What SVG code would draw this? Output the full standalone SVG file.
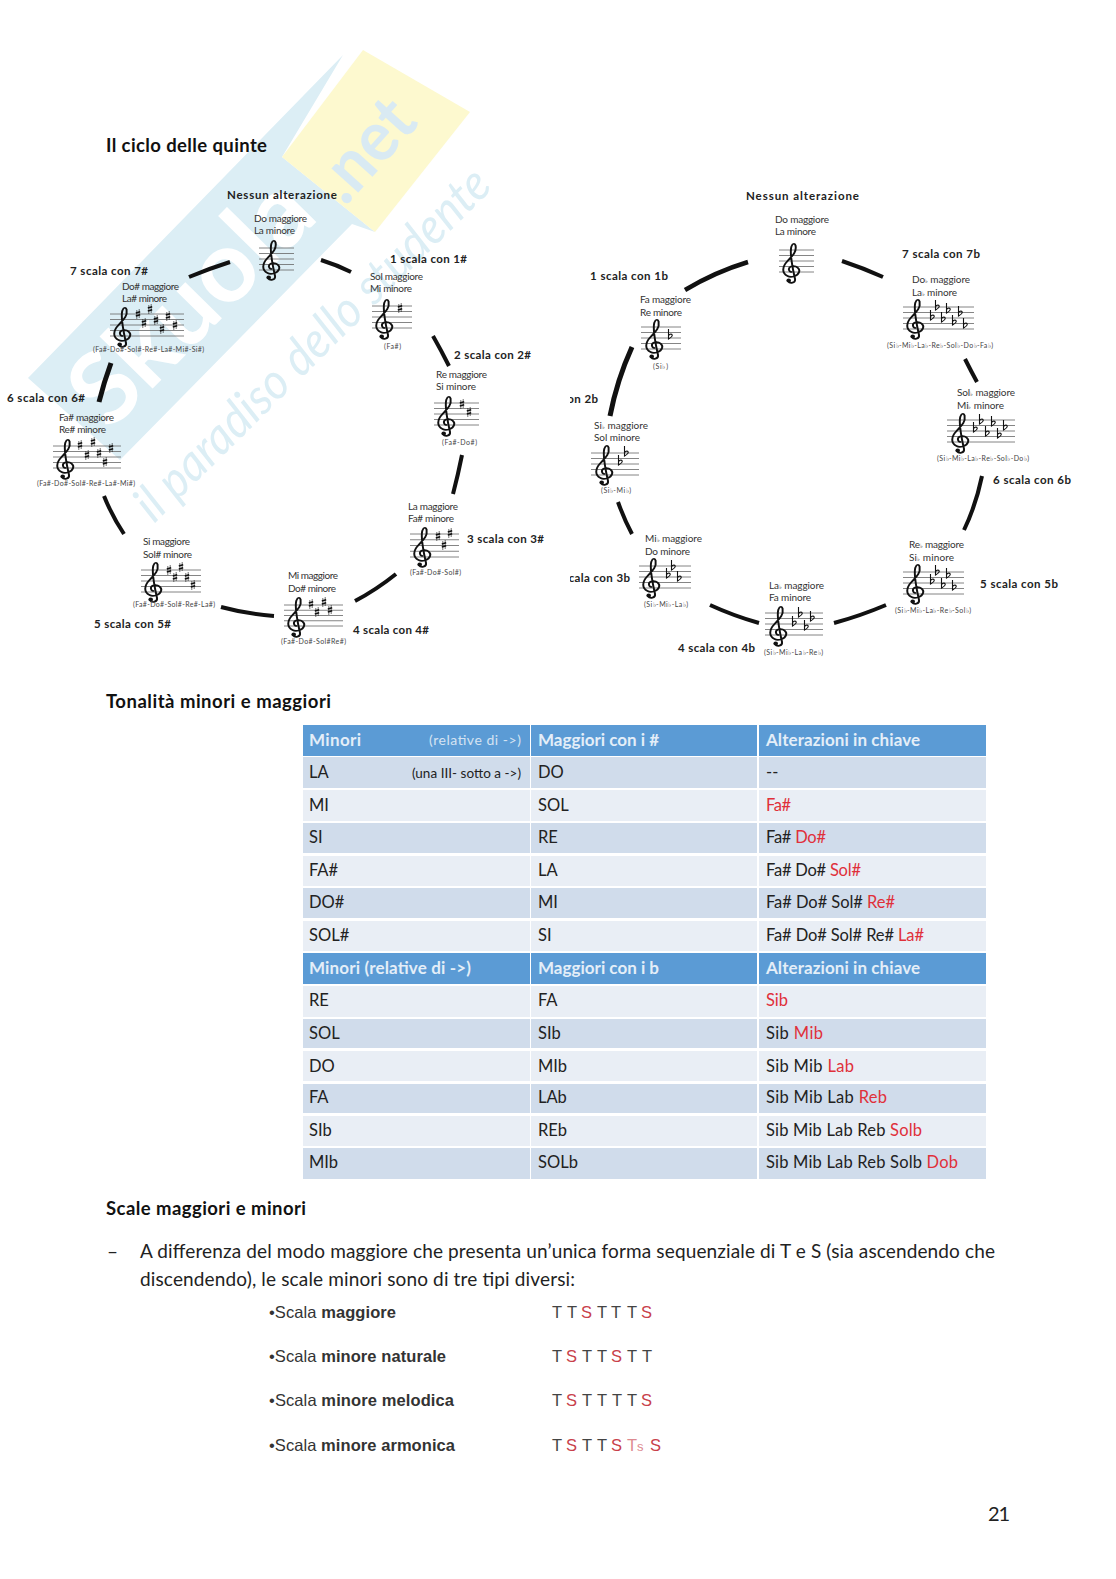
<svg xmlns="http://www.w3.org/2000/svg" xmlns:xlink="http://www.w3.org/1999/xlink" width="1116" height="1579" viewBox="0 0 1116 1579">
<style>
text{font-family:Lato,"Liberation Sans",sans-serif;fill:#222}
.h{font-size:18.5px;font-weight:700;fill:#111}
.b{font-size:11.5px;font-weight:700;fill:#222}
.n{font-size:10px;fill:#333}
.k{font-size:7px;fill:#444}
.f{font-size:6px}
.th{font-size:17px;font-weight:700;fill:#E4EEF8}
.td{font-size:16.5px;fill:#222}
.sm{font-size:13.5px;fill:#222}
.r{fill:#E0303A}
.p{font-size:19px;fill:#222}
.a{font-family:"Liberation Sans",Arial,sans-serif;font-size:16.5px;fill:#333}
.ab{font-weight:700}
.s{font-family:"Liberation Sans",Arial,sans-serif;font-size:16.5px;fill:#444}
.q{fill:#C8404A}
.hd{fill:#5B9BD5}.d{fill:#D0DCEB}.l{fill:#E9EEF5}
.arc{fill:none;stroke:#111;stroke-width:4;stroke-linecap:butt}
.sl{stroke:#666;stroke-width:.8;fill:none;vector-effect:non-scaling-stroke}
</style>
<defs>
<path id="st" class="sl" d="M0 0H1M0 .25H1M0 .5H1M0 .75H1M0 1H1"/>
<g id="clef"><g transform="scale(1.15 1)"><path d="M1 29C-2 29-3 25 0 23.5C5 22 8 26 7 29C6 33 0 35-3 33C-8 30-8 24-3 18C1 13 5 9 4 3C3.6 0 1.5 0 .5 3C-1 7 0 16 2 28L3.5 36C4 40-1 41-2.5 38" fill="none" stroke="#111" stroke-width="1.7"/><circle cx="-2" cy="37.5" r="2" fill="#111"/></g></g>
<g id="sh"><path d="M-1.2-4V5M1.2-5V4" stroke="#111" stroke-width=".6"/><path d="M-2.2-1 2.2-2.2M-2.2 2 2.2.8" stroke="#111" stroke-width="1.5"/></g>
<path id="fl" d="M-1.5-7V3C1 1.5 3 0 2-1.5C1-2.5-1-1.5-1.5 0" fill="none" stroke="#111" stroke-width="1.1"/>
<clipPath id="cut"><rect x="570" y="170" width="546" height="500"/></clipPath>
</defs>
<rect width="1116" height="1579" fill="#fff"/>
<g id="watermark">
<path d="M343 55 28 378 120 460 352 224 375 232 282 157Z" fill="#DCEEF5"/>
<path d="M282 157 363 50 470 112 375 232Z" fill="#FDF9CF"/>
<text transform="translate(110 432) rotate(-45.5)" font-size="100" font-weight="700" textLength="300" lengthAdjust="spacingAndGlyphs" style="fill:#fff;font-family:Lato,sans-serif">Skuola</text>
<text transform="translate(345 207) rotate(-48)" font-size="70" font-weight="700" textLength="112" lengthAdjust="spacingAndGlyphs" style="fill:#D9EAF3;font-family:Lato,sans-serif">.net</text>
<text transform="translate(154 524) rotate(-44.7)" font-size="50" font-style="italic" textLength="478" lengthAdjust="spacingAndGlyphs" style="fill:#DCEEF5;font-family:Lato,sans-serif">il paradiso dello studente</text>
</g>
<g id="headings">
<text class="h" x="106" y="152" textLength="161">Il ciclo delle quinte</text>
<text class="h" x="106" y="708" textLength="225">Tonalità minori e maggiori</text>
<text class="h" x="106" y="1215" textLength="200">Scale maggiori e minori</text>
</g>
<g id="connectors">
<path class="arc" d="M230 262Q208 269 189 277"/>
<path class="arc" d="M321 260Q337 265 351 272"/>
<path class="arc" d="M433 336Q441 350 449 366"/>
<path class="arc" d="M462 455Q458 475 453 494"/>
<path class="arc" d="M396 574Q376 590 355 601"/>
<path class="arc" d="M274 616Q247 614 221 607"/>
<path class="arc" d="M124 534Q112 516 104 496"/>
<path class="arc" style="stroke-width:5" d="M99 402Q104 382 111 363"/>
<path class="arc" style="stroke-width:4.5" d="M748 262Q715 272 685 290"/>
<path class="arc" d="M842 261Q863 268 883 277"/>
<path class="arc" d="M965 359Q971 371 977 382"/>
<path class="arc" d="M982 476Q976 505 964 530"/>
<path class="arc" d="M886 605Q860 616 834 623"/>
<path class="arc" d="M759 623Q734 616 710 605"/>
<path class="arc" d="M632 534Q624 519 618 502"/>
<path class="arc" style="stroke-width:5" d="M610 416Q617 380 632 347"/>
</g>
<g id="labels">
<text class="b" x="227" y="199" textLength="110">Nessun alterazione</text>
<text class="b" x="390" y="263" textLength="77">1 scala con 1#</text>
<text class="b" x="454" y="359" textLength="77">2 scala con 2#</text>
<text class="b" x="467" y="543" textLength="77">3 scala con 3#</text>
<text class="b" x="353" y="634" textLength="76">4 scala con 4#</text>
<text class="b" x="94" y="628" textLength="77">5 scala con 5#</text>
<text class="b" x="7" y="402" textLength="78">6 scala con 6#</text>
<text class="b" x="70" y="275" textLength="78">7 scala con 7#</text>
<text class="b" x="746" y="200" textLength="113">Nessun alterazione</text>
<text class="b" x="902" y="258" textLength="78">7 scala con 7b</text>
<text class="b" x="993" y="484" textLength="78">6 scala con 6b</text>
<text class="b" x="980" y="588" textLength="78">5 scala con 5b</text>
<text class="b" x="678" y="652" textLength="77">4 scala con 4b</text>
<g clip-path="url(#cut)"><text class="b" x="553" y="582" textLength="77">3 scala con 3b</text>
<text class="b" x="521" y="403" textLength="77">2 scala con 2b</text></g>
<text class="b" x="590" y="280" textLength="78">1 scala con 1b</text>
</g>
<g id="key-do"><text class="n" x="254" y="222" textLength="53">Do maggiore</text><text class="n" x="254" y="234" textLength="41">La minore</text>
<use href="#st" transform="translate(259 248) scale(35 22)"/><use href="#clef" transform="translate(271 240)"/></g>
<g id="key-sol"><text class="n" x="370" y="280" textLength="53">Sol maggiore</text><text class="n" x="370" y="292" textLength="42">Mi minore</text>
<use href="#st" transform="translate(372 306) scale(40 22)"/><use href="#clef" transform="translate(384 299)"/><use href="#sh" x="400" y="308"/>
<text class="k" x="384" y="349" textLength="17">(Fa#)</text></g>
<g id="key-re"><text class="n" x="436" y="378" textLength="51">Re maggiore</text><text class="n" x="436" y="390" textLength="40">Si minore</text>
<use href="#st" transform="translate(434 403) scale(45 22)"/><use href="#clef" transform="translate(446 396)"/><use href="#sh" x="462" y="404"/><use href="#sh" x="469" y="412"/>
<text class="k" x="442" y="445" textLength="35">(Fa#-Do#)</text></g>
<g id="key-la"><text class="n" x="408" y="510" textLength="50">La maggiore</text><text class="n" x="408" y="522" textLength="46">Fa# minore</text>
<use href="#st" transform="translate(410 534) scale(49 23)"/><use href="#clef" transform="translate(422 527)"/><use href="#sh" x="438" y="536"/><use href="#sh" x="444" y="545"/><use href="#sh" x="450" y="533"/>
<text class="k" x="410" y="575" textLength="51">(Fa#-Do#-Sol#)</text></g>
<g id="key-mi"><text class="n" x="288" y="579" textLength="50">Mi maggiore</text><text class="n" x="288" y="592" textLength="48">Do# minore</text>
<use href="#st" transform="translate(284 605) scale(59 21)"/><use href="#clef" transform="translate(296 597)"/><use href="#sh" x="311" y="604"/><use href="#sh" x="317" y="612"/><use href="#sh" x="324" y="602"/><use href="#sh" x="330" y="610"/>
<text class="k" x="281" y="644" textLength="65">(Fa#-Do#-Sol#Re#)</text></g>
<g id="key-si"><text class="n" x="143" y="545" textLength="47">Si maggiore</text><text class="n" x="143" y="558" textLength="49">Sol# minore</text>
<use href="#st" transform="translate(141 570) scale(60 22)"/><use href="#clef" transform="translate(153 562)"/><use href="#sh" x="169" y="570"/><use href="#sh" x="175" y="577"/><use href="#sh" x="181" y="567"/><use href="#sh" x="187" y="577"/><use href="#sh" x="193" y="585"/>
<text class="k" x="133" y="607" textLength="82">(Fa#-Do#-Sol#-Re#-La#)</text></g>
<g id="key-fad"><text class="n" x="59" y="421" textLength="55">Fa# maggiore</text><text class="n" x="59" y="433" textLength="47">Re# minore</text>
<use href="#st" transform="translate(53 446) scale(68 22)"/><use href="#clef" transform="translate(65 439)"/><use href="#sh" x="80" y="445"/><use href="#sh" x="87" y="455"/><use href="#sh" x="93" y="442"/><use href="#sh" x="99" y="453"/><use href="#sh" x="105" y="462"/><use href="#sh" x="111" y="448"/>
<text class="k" x="37" y="486" textLength="98">(Fa#-Do#-Sol#-Re#-La#-Mi#)</text></g>
<g id="key-dod"><text class="n" x="122" y="290" textLength="57">Do# maggiore</text><text class="n" x="122" y="302" textLength="45">La# minore</text>
<use href="#st" transform="translate(110 314) scale(74 22)"/><use href="#clef" transform="translate(122 307)"/><use href="#sh" x="138" y="314"/><use href="#sh" x="144" y="323"/><use href="#sh" x="150" y="309"/><use href="#sh" x="156" y="320"/><use href="#sh" x="162" y="329"/><use href="#sh" x="168" y="316"/><use href="#sh" x="175" y="325"/>
<text class="k" x="93" y="352" textLength="111">(Fa#-Do#-Sol#-Re#-La#-Mi#-Si#)</text></g>
<g id="bkey-do"><text class="n" x="775" y="223" textLength="54">Do maggiore</text><text class="n" x="775" y="235" textLength="41">La minore</text>
<use href="#st" transform="translate(779 250) scale(35 22)"/><use href="#clef" transform="translate(791 243)"/></g>
<g id="bkey-dob"><text class="n" x="912" y="283" textLength="58">Do<tspan class="f">♭</tspan> maggiore</text><text class="n" x="912" y="296" textLength="45">La<tspan class="f">♭</tspan> minore</text>
<use href="#st" transform="translate(903 307) scale(71 22)"/><use href="#clef" transform="translate(915 299)"/><use href="#fl" x="932" y="317"/><use href="#fl" x="937" y="307"/><use href="#fl" x="943" y="319"/><use href="#fl" x="948" y="310"/><use href="#fl" x="954" y="322"/><use href="#fl" x="960" y="313"/><use href="#fl" x="965" y="325"/>
<text class="k" x="887" y="348" textLength="106">(Si♭-Mi♭-La♭-Re♭-Sol♭-Do♭-Fa♭)</text></g>
<g id="bkey-solb"><text class="n" x="957" y="396" textLength="58">Sol<tspan class="f">♭</tspan> maggiore</text><text class="n" x="957" y="409" textLength="47">Mi<tspan class="f">♭</tspan> minore</text>
<use href="#st" transform="translate(947 420) scale(68 22)"/><use href="#clef" transform="translate(960 413)"/><use href="#fl" x="975" y="429"/><use href="#fl" x="981" y="421"/><use href="#fl" x="987" y="433"/><use href="#fl" x="993" y="423"/><use href="#fl" x="999" y="435"/><use href="#fl" x="1005" y="427"/>
<text class="k" x="937" y="461" textLength="92">(Si♭-Mi♭-La♭-Re♭-Sol♭-Do♭)</text></g>
<g id="bkey-reb"><text class="n" x="909" y="548" textLength="55">Re<tspan class="f">♭</tspan> maggiore</text><text class="n" x="909" y="561" textLength="45">Si<tspan class="f">♭</tspan> minore</text>
<use href="#st" transform="translate(903 572) scale(61 22)"/><use href="#clef" transform="translate(915 564)"/><use href="#fl" x="932" y="581"/><use href="#fl" x="937" y="572"/><use href="#fl" x="943" y="585"/><use href="#fl" x="948" y="575"/><use href="#fl" x="954" y="587"/>
<text class="k" x="895" y="613" textLength="76">(Si♭-Mi♭-La♭-Re♭-Sol♭)</text></g>
<g id="bkey-lab"><text class="n" x="769" y="589" textLength="55">La<tspan class="f">♭</tspan> maggiore</text><text class="n" x="769" y="601" textLength="42">Fa minore</text>
<use href="#st" transform="translate(765 613) scale(58 22)"/><use href="#clef" transform="translate(778 606)"/><use href="#fl" x="794" y="623"/><use href="#fl" x="800" y="614"/><use href="#fl" x="806" y="627"/><use href="#fl" x="812" y="618"/>
<text class="k" x="764" y="655" textLength="59">(Si♭-Mi♭-La♭-Re♭)</text></g>
<g id="bkey-mib"><text class="n" x="645" y="542" textLength="57">Mi<tspan class="f">♭</tspan> maggiore</text><text class="n" x="645" y="555" textLength="45">Do minore</text>
<use href="#st" transform="translate(639 566) scale(52 22)"/><use href="#clef" transform="translate(651 558)"/><use href="#fl" x="668" y="575"/><use href="#fl" x="673" y="567"/><use href="#fl" x="679" y="578"/>
<text class="k" x="644" y="607" textLength="44">(Si♭-Mi♭-La♭)</text></g>
<g id="bkey-sib"><text class="n" x="594" y="429" textLength="54">Si<tspan class="f">♭</tspan> maggiore</text><text class="n" x="594" y="441" textLength="46">Sol minore</text>
<use href="#st" transform="translate(591 453) scale(48 22)"/><use href="#clef" transform="translate(604 445)"/><use href="#fl" x="620" y="462"/><use href="#fl" x="626" y="453"/>
<text class="k" x="601" y="493" textLength="30">(Si♭-Mi♭)</text></g>
<g id="bkey-fa"><text class="n" x="640" y="303" textLength="51">Fa maggiore</text><text class="n" x="640" y="316" textLength="42">Re minore</text>
<use href="#st" transform="translate(641 327) scale(40 22)"/><use href="#clef" transform="translate(654 319)"/><use href="#fl" x="670" y="336"/>
<text class="k" x="653" y="369" textLength="15">(Si♭)</text></g>
<g id="table">
<rect class="hd" x="303" y="725" width="227" height="31"/><rect class="hd" x="531" y="725" width="226" height="31"/><rect class="hd" x="759" y="725" width="227" height="31"/>
<path class="d" d="M303 757H530V788H303ZM531 757H757V788H531ZM759 757H986V788H759ZM303 823H530V853H303ZM531 823H757V853H531ZM759 823H986V853H759ZM303 888H530V918H303ZM531 888H757V918H531ZM759 888H986V918H759ZM303 1019H530V1048H303ZM531 1019H757V1048H531ZM759 1019H986V1048H759ZM303 1084H530V1113H303ZM531 1084H757V1113H531ZM759 1084H986V1113H759ZM303 1148H530V1179H303ZM531 1148H757V1179H531ZM759 1148H986V1179H759Z"/>
<path class="l" d="M303 790H530V821H303ZM531 790H757V821H531ZM759 790H986V821H759ZM303 856H530V886H303ZM531 856H757V886H531ZM759 856H986V886H759ZM303 921H530V951H303ZM531 921H757V951H531ZM759 921H986V951H759ZM303 986H530V1017H303ZM531 986H757V1017H531ZM759 986H986V1017H759ZM303 1051H530V1081H303ZM531 1051H757V1081H531ZM759 1051H986V1081H759ZM303 1116H530V1146H303ZM531 1116H757V1146H531ZM759 1116H986V1146H759Z"/>
<rect class="hd" x="303" y="953" width="227" height="31"/><rect class="hd" x="531" y="953" width="226" height="31"/><rect class="hd" x="759" y="953" width="227" height="31"/>
<text class="th" x="309" y="746" textLength="52">Minori</text><text x="429" y="745" textLength="92" style="font-size:14px;fill:#D5E3F2">(relative di -&gt;)</text><text class="th" x="538" y="746" textLength="121">Maggiori con i #</text><text class="th" x="766" y="746" textLength="154">Alterazioni in chiave</text>
<text class="td" x="309" y="778">LA</text><text class="sm" x="412" y="778" textLength="109">(una III- sotto a -&gt;)</text><text class="td" x="538" y="778">DO</text><text class="td" x="766" y="778">--</text>
<text class="td" x="309" y="811">MI</text><text class="td" x="538" y="811">SOL</text><text class="td r" x="766" y="811" textLength="25">Fa#</text>
<text class="td" x="309" y="843">SI</text><text class="td" x="538" y="843">RE</text><text class="td" x="766" y="843" textLength="60">Fa# <tspan class="r">Do#</tspan></text>
<text class="td" x="309" y="876">FA#</text><text class="td" x="538" y="876">LA</text><text class="td" x="766" y="876" textLength="95">Fa# Do# <tspan class="r">Sol#</tspan></text>
<text class="td" x="309" y="908">DO#</text><text class="td" x="538" y="908">MI</text><text class="td" x="766" y="908" textLength="129">Fa# Do# Sol# <tspan class="r">Re#</tspan></text>
<text class="td" x="309" y="941">SOL#</text><text class="td" x="538" y="941">SI</text><text class="td" x="766" y="941" textLength="158">Fa# Do# Sol# Re# <tspan class="r">La#</tspan></text>
<text class="th" x="309" y="974" textLength="162">Minori (relative di -&gt;)</text><text class="th" x="538" y="974" textLength="121">Maggiori con i b</text><text class="th" x="766" y="974" textLength="154">Alterazioni in chiave</text>
<text class="td" x="309" y="1006">RE</text><text class="td" x="538" y="1006">FA</text><text class="td r" x="766" y="1006" textLength="22">Sib</text>
<text class="td" x="309" y="1039">SOL</text><text class="td" x="538" y="1039">SIb</text><text class="td" x="766" y="1039" textLength="57">Sib <tspan class="r">Mib</tspan></text>
<text class="td" x="309" y="1072">DO</text><text class="td" x="538" y="1072">MIb</text><text class="td" x="766" y="1072" textLength="88">Sib Mib <tspan class="r">Lab</tspan></text>
<text class="td" x="309" y="1103">FA</text><text class="td" x="538" y="1103">LAb</text><text class="td" x="766" y="1103" textLength="121">Sib Mib Lab <tspan class="r">Reb</tspan></text>
<text class="td" x="309" y="1136">SIb</text><text class="td" x="538" y="1136">REb</text><text class="td" x="766" y="1136" textLength="156">Sib Mib Lab Reb <tspan class="r">Solb</tspan></text>
<text class="td" x="309" y="1168">MIb</text><text class="td" x="538" y="1168">SOLb</text><text class="td" x="766" y="1168" textLength="192">Sib Mib Lab Reb Solb <tspan class="r">Dob</tspan></text>
</g>
<g id="body">
<text class="p" x="107" y="1258">–</text>
<text class="p" x="140" y="1258" textLength="855">A differenza del modo maggiore che presenta un’unica forma sequenziale di T e S (sia ascendendo che</text>
<text class="p" x="140" y="1286" textLength="435">discendendo), le scale minori sono di tre tipi diversi:</text>
<text class="a" x="269" y="1318" textLength="127">•Scala <tspan class="ab">maggiore</tspan></text>
<text class="a" x="269" y="1362" textLength="177">•Scala <tspan class="ab">minore naturale</tspan></text>
<text class="a" x="269" y="1406" textLength="185">•Scala <tspan class="ab">minore melodica</tspan></text>
<text class="a" x="269" y="1451" textLength="186">•Scala <tspan class="ab">minore armonica</tspan></text>
<text class="s" y="1318"><tspan x="552">T</tspan><tspan x="567">T</tspan><tspan class="q" x="581">S</tspan><tspan x="597">T</tspan><tspan x="611">T</tspan><tspan x="627">T</tspan><tspan class="q" x="641">S</tspan></text>
<text class="s" y="1362"><tspan x="552">T</tspan><tspan class="q" x="566">S</tspan><tspan x="582">T</tspan><tspan x="597">T</tspan><tspan class="q" x="611">S</tspan><tspan x="627">T</tspan><tspan x="642">T</tspan></text>
<text class="s" y="1406"><tspan x="552">T</tspan><tspan class="q" x="566">S</tspan><tspan x="582">T</tspan><tspan x="597">T</tspan><tspan x="612">T</tspan><tspan x="627">T</tspan><tspan class="q" x="641">S</tspan></text>
<text class="s" y="1451"><tspan x="552">T</tspan><tspan class="q" x="566">S</tspan><tspan x="582">T</tspan><tspan x="597">T</tspan><tspan class="q" x="611">S</tspan><tspan x="627" style="fill:#DD8A90">T<tspan style="font-size:13px">s</tspan></tspan><tspan class="q" x="650">S</tspan></text>
<text x="988" y="1521" style="font-size:20px;fill:#222" textLength="22">21</text>
</g>
</svg>
